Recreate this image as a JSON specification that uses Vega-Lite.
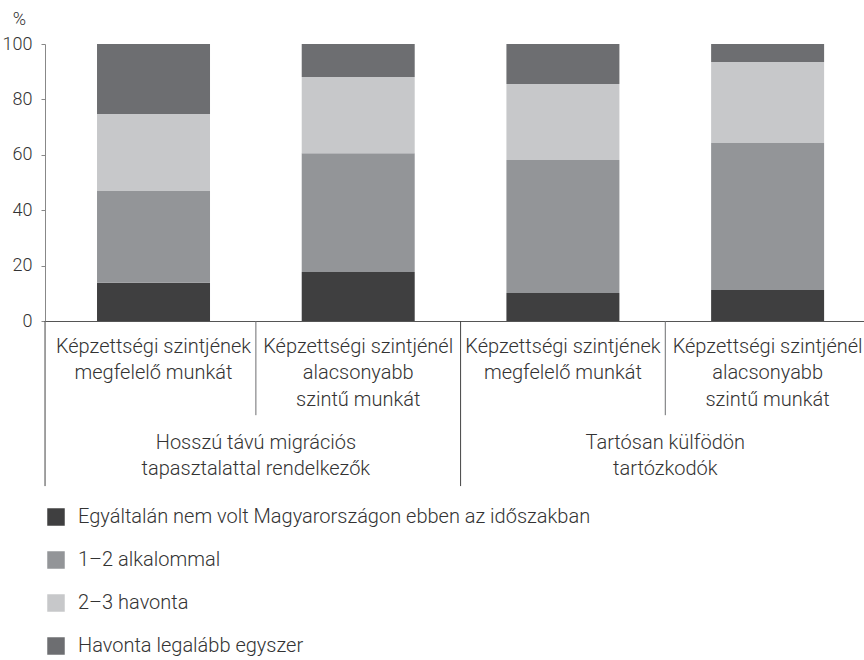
{
  "$schema": "https://vega.github.io/schema/vega-lite/v6.json",
  "autosize": {"type": "none"},
  "padding": {"left": 45, "top": 44, "right": 0, "bottom": 339},
  "width": 819,
  "height": 277,
  "background": "white",
  "config": {
    "view": {"stroke": null},
    "font": "Roboto",
    "text": {"font": "Roboto"}
  },
  "datasets": {
    "bars": [
      {"bar": "A1", "series": "Egyáltalán nem volt Magyarországon ebben az időszakban", "rank": 1, "value": 13.8},
      {"bar": "A1", "series": "1–2 alkalommal", "rank": 2, "value": 33.1},
      {"bar": "A1", "series": "2–3 havonta", "rank": 3, "value": 27.8},
      {"bar": "A1", "series": "Havonta legalább egyszer", "rank": 4, "value": 25.3},
      {"bar": "A2", "series": "Egyáltalán nem volt Magyarországon ebben az időszakban", "rank": 1, "value": 17.7},
      {"bar": "A2", "series": "1–2 alkalommal", "rank": 2, "value": 42.9},
      {"bar": "A2", "series": "2–3 havonta", "rank": 3, "value": 27.5},
      {"bar": "A2", "series": "Havonta legalább egyszer", "rank": 4, "value": 11.9},
      {"bar": "B1", "series": "Egyáltalán nem volt Magyarországon ebben az időszakban", "rank": 1, "value": 10.1},
      {"bar": "B1", "series": "1–2 alkalommal", "rank": 2, "value": 48.0},
      {"bar": "B1", "series": "2–3 havonta", "rank": 3, "value": 27.5},
      {"bar": "B1", "series": "Havonta legalább egyszer", "rank": 4, "value": 14.4},
      {"bar": "B2", "series": "Egyáltalán nem volt Magyarországon ebben az időszakban", "rank": 1, "value": 11.2},
      {"bar": "B2", "series": "1–2 alkalommal", "rank": 2, "value": 53.1},
      {"bar": "B2", "series": "2–3 havonta", "rank": 3, "value": 29.2},
      {"bar": "B2", "series": "Havonta legalább egyszer", "rank": 4, "value": 6.5}
    ],
    "labels": [
      {"bar": "A1", "label": "Képzettségi szintjének\nmegfelelő munkát"},
      {"bar": "A2", "label": "Képzettségi szintjénél\nalacsonyabb\nszintű munkát"},
      {"bar": "B1", "label": "Képzettségi szintjének\nmegfelelő munkát"},
      {"bar": "B2", "label": "Képzettségi szintjénél\nalacsonyabb\nszintű munkát"}
    ],
    "groups": [
      {"bar": "A1", "group": "Hosszú távú migrációs\ntapasztalattal rendelkezők"},
      {"bar": "B1", "group": "Tartósan külfödön\ntartózkodók"}
    ],
    "seps": [
      {"bar": "A1", "kind": "short"},
      {"bar": "A2", "kind": "long"},
      {"bar": "B1", "kind": "short"}
    ]
  },
  "layer": [
    {
      "data": {"name": "bars"},
      "mark": {"type": "bar"},
      "encoding": {
        "x": {
          "field": "bar", "type": "nominal",
          "scale": {"domain": ["A1", "A2", "B1", "B2"], "paddingInner": 0.448, "paddingOuter": 0.2245, "align": 0.566},
          "axis": {"labels": false, "ticks": false, "title": null, "domainColor": "#555555", "domainWidth": 1}
        },
        "y": {
          "field": "value", "type": "quantitative", "stack": "zero",
          "scale": {"domain": [0, 100], "nice": false},
          "axis": {
            "values": [0, 20, 40, 60, 80, 100],
            "grid": false,
            "title": "%",
            "titleAngle": 0, "titleAlign": "center", "titleBaseline": "alphabetic",
            "titleX": -26, "titleY": -20, "titleFontSize": 18, "titleFontWeight": 300, "titleFont": "Roboto", "titleColor": "#333333",
            "labelFont": "Roboto", "labelFontSize": 18, "labelFontWeight": 300, "labelColor": "#333333", "labelPadding": 9,
            "tickSize": 4, "tickColor": "#888888", "domainColor": "#888888"
          }
        },
        "color": {
          "field": "series", "type": "nominal",
          "scale": {
            "domain": ["Egyáltalán nem volt Magyarországon ebben az időszakban", "1–2 alkalommal", "2–3 havonta", "Havonta legalább egyszer"],
            "range": ["#3f3f40", "#939598", "#c7c8ca", "#6d6e71"]
          },
          "legend": {
            "orient": "none", "legendX": 1, "legendY": 463, "direction": "vertical",
            "title": null, "padding": 0,
            "symbolType": "square", "symbolSize": 306, "symbolStrokeWidth": 0, "symbolOpacity": 1,
            "labelFont": "Roboto", "labelFontSize": 20, "labelFontWeight": 300, "labelColor": "#333333",
            "labelOffset": 12, "rowPadding": 23, "labelLimit": 800
          }
        },
        "order": {"field": "rank", "type": "quantitative", "sort": "ascending"}
      }
    },
    {
      "data": {"name": "labels"},
      "mark": {"type": "text", "font": "Roboto", "fontSize": 20, "fontWeight": 300, "color": "#333333", "lineBreak": "\n", "lineHeight": 26.7, "baseline": "alphabetic", "align": "center", "dy": 31.5},
      "encoding": {
        "x": {"field": "bar", "type": "nominal"},
        "y": {"datum": 0, "type": "quantitative"},
        "text": {"field": "label"}
      }
    },
    {
      "data": {"name": "groups"},
      "mark": {"type": "text", "font": "Roboto", "fontSize": 20, "fontWeight": 300, "color": "#333333", "lineBreak": "\n", "lineHeight": 26.5, "baseline": "alphabetic", "align": "center", "dy": 127.5},
      "encoding": {
        "x": {"field": "bar", "type": "nominal", "bandPosition": 1.406},
        "y": {"datum": 0, "type": "quantitative"},
        "text": {"field": "group"}
      }
    },
    {
      "data": {"name": "seps"},
      "transform": [{"filter": "datum.kind === 'short'"}],
      "mark": {"type": "rule", "color": "#6d6e71", "strokeWidth": 1},
      "encoding": {
        "x": {"field": "bar", "type": "nominal", "bandPosition": 1.406},
        "y": {"datum": 0, "type": "quantitative"},
        "y2": {"datum": -34}
      }
    },
    {
      "data": {"name": "seps"},
      "transform": [{"filter": "datum.kind === 'long'"}],
      "mark": {"type": "rule", "color": "#444444", "strokeWidth": 1},
      "encoding": {
        "x": {"field": "bar", "type": "nominal", "bandPosition": 1.406},
        "y": {"datum": 0, "type": "quantitative"},
        "y2": {"datum": -59.6}
      }
    },
    {
      "data": {"name": "seps"},
      "transform": [{"filter": "datum.bar === 'A1'"}],
      "mark": {"type": "rule", "color": "#444444", "strokeWidth": 1},
      "encoding": {
        "x": {"field": "bar", "type": "nominal", "bandPosition": -0.46},
        "y": {"datum": 0, "type": "quantitative"},
        "y2": {"datum": -59.6}
      }
    }
  ]
}
